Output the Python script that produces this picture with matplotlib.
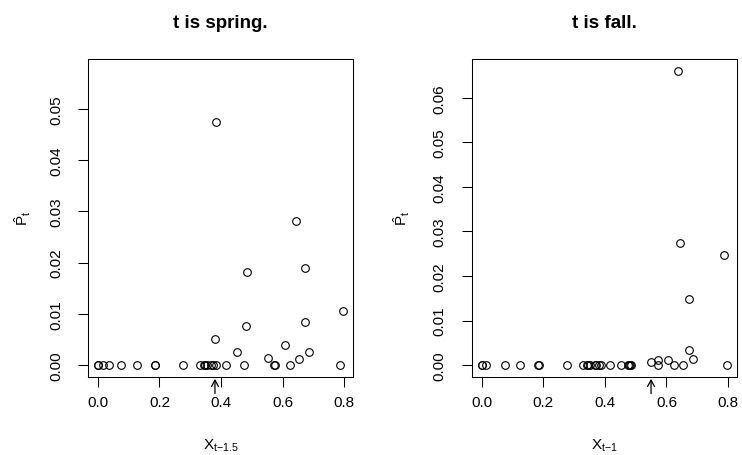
import matplotlib
matplotlib.use('Agg')
import matplotlib.pyplot as plt

plt.rcParams['font.family'] = ['Liberation Sans', 'DejaVu Sans']
plt.rcParams['mathtext.fontset'] = 'custom'
plt.rcParams['mathtext.rm'] = 'Liberation Sans'
plt.rcParams['mathtext.it'] = 'Liberation Sans'

# spring panel: lagged X and estimated P
spring_x = [0.00, 0.002, 0.016, 0.035, 0.075, 0.126, 0.184, 0.186, 0.276, 0.330,
            0.343, 0.348, 0.354, 0.368, 0.373, 0.384, 0.416, 0.474, 0.571, 0.574,
            0.623, 0.787,
            0.385, 0.644, 0.483, 0.671, 0.796, 0.480, 0.671, 0.381, 0.606, 0.451,
            0.685, 0.552, 0.652]
spring_p = [0.0] * 22 + [0.0475, 0.0282, 0.0181, 0.0189, 0.0105, 0.0077, 0.0085,
                         0.0051, 0.0039, 0.0025, 0.0026, 0.0014, 0.0012]

# fall panel
fall_x = [0.00, 0.002, 0.016, 0.076, 0.125, 0.182, 0.185, 0.276, 0.328, 0.341,
          0.346, 0.351, 0.368, 0.373, 0.381, 0.386, 0.416, 0.451, 0.475, 0.478,
          0.481, 0.484, 0.572, 0.625, 0.653, 0.797,
          0.636, 0.644, 0.788, 0.672, 0.672, 0.686, 0.551, 0.573, 0.606]
fall_p = [0.0] * 26 + [0.0661, 0.0275, 0.0248, 0.0149, 0.0034, 0.0015, 0.0008,
                       0.0012, 0.0011]

spring_arrow = 0.38
fall_arrow = 0.55

x_ticks = [0.0, 0.2, 0.4, 0.6, 0.8]
spring_yticks = [0.00, 0.01, 0.02, 0.03, 0.04, 0.05]
fall_yticks = [0.00, 0.01, 0.02, 0.03, 0.04, 0.05, 0.06]

fig = plt.figure(figsize=(7.42, 4.56), dpi=100)
W, H = 742.0, 456.0
ax1 = fig.add_axes([88 / W, 1 - 378 / H, 265 / W, 318.5 / H])
ax2 = fig.add_axes([471.7 / W, 1 - 378 / H, 265 / W, 318.5 / H])

panels = [
    (ax1, spring_x, spring_p, spring_arrow, spring_yticks, (-0.0023, 0.0598),
     't is spring.', r'$\mathrm{X}_{\mathrm{t{-}1.5}}$', -0.245),
    (ax2, fall_x, fall_p, fall_arrow, fall_yticks, (-0.00264, 0.0688),
     't is fall.', r'$\mathrm{X}_{\mathrm{t{-}1}}$', -0.263),
]

for ax, xs, ps, arr, yt, ylim, title, xlab, ylab_x in panels:
    ax.plot(xs, ps, 'o', mfc='none', mec='black', ms=5.5, mew=0.8)
    ax.set_xlim(-0.032, 0.828)
    ax.set_ylim(*ylim)
    ax.set_xticks(x_ticks)
    ax.set_yticks(yt)
    ax.set_yticklabels(['%.2f' % v for v in yt])
    ax.tick_params(axis='both', labelsize=11, length=7, width=0.75, direction='out')
    ax.tick_params(axis='x', pad=6)
    ax.tick_params(axis='y', labelrotation=90, pad=11)
    for lab in ax.get_yticklabels():
        lab.set_va('center')
    for s in ax.spines.values():
        s.set_linewidth(0.75)
    ax.set_title(title, fontsize=13.5, fontweight='bold', pad=23)
    ax.text(0.5, -0.226, xlab, transform=ax.transAxes, ha='center', va='baseline',
            fontsize=11)
    ax.text(ylab_x, 0.5, r'$\hat{\mathrm{P}}_{\mathrm{t}}$', transform=ax.transAxes,
            ha='center', va='center', rotation=90, fontsize=11)
    # arrow marking the threshold, drawn below the axis
    ax.annotate('', xy=(arr, -0.006), xytext=(arr, -0.052),
                xycoords=('data', 'axes fraction'),
                arrowprops=dict(arrowstyle='->,head_length=0.45,head_width=0.25',
                                lw=0.9, color='black', shrinkA=0, shrinkB=0))

fig.savefig('out.png', dpi=100)
